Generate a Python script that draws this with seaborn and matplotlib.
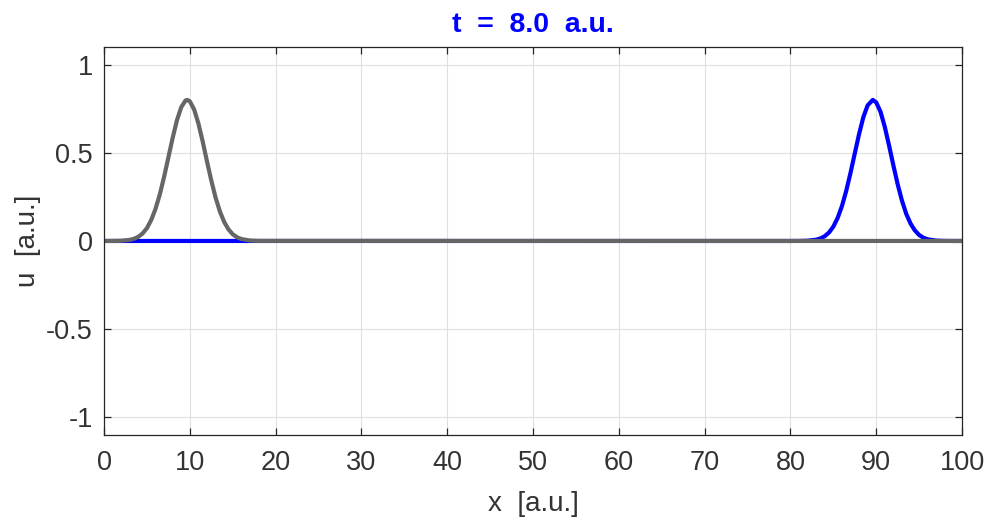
import pandas as pd
import seaborn as sns
import matplotlib.pyplot as plt

# datos
# -----------------------------------------------------------------------
x_gray = [0, 1, 2, 3, 3.5, 4, 4.5, 5, 5.5, 6, 6.5, 7, 7.5, 8, 8.5, 9, 9.5, 9.7,
          10, 10.5, 11, 11.5, 12, 12.5, 13, 13.5, 14, 14.5, 15, 15.5, 16, 17, 18, 100]
u_gray = [0, 0.0002, 0.0013, 0.0062, 0.0125, 0.0238, 0.043, 0.073, 0.119, 0.182,
          0.264, 0.364, 0.474, 0.585, 0.685, 0.759, 0.797, 0.80, 0.792, 0.746, 0.666,
          0.564, 0.451, 0.343, 0.246, 0.168, 0.108, 0.066, 0.038, 0.021, 0.011,
          0.0025, 0.0005, 0]

x_blue = [0, 80, 81, 82, 83, 83.5, 84, 84.5, 85, 85.5, 86, 86.5, 87, 87.5, 88, 88.5,
          89, 89.6, 90, 90.5, 91, 91.5, 92, 92.5, 93, 93.5, 94, 94.5, 95, 95.5, 96,
          97, 98, 99, 100]
u_blue = [0, 0, 0.0003, 0.0015, 0.0072, 0.0143, 0.0269, 0.048, 0.081, 0.130, 0.197,
          0.283, 0.385, 0.496, 0.606, 0.702, 0.769, 0.80, 0.786, 0.733, 0.647, 0.541,
          0.429, 0.322, 0.229, 0.154, 0.099, 0.060, 0.034, 0.0185, 0.0095, 0.0021,
          0.0004, 0.00005, 0]

x_ticks = [0, 10, 20, 30, 40, 50, 60, 70, 80, 90, 100]
y_ticks = [-1, -0.5, 0, 0.5, 1]
y_labels = ["-1", "-0.5", "0", "0.5", "1"]

titulo = "t  =  8.0  a.u."

# estilo
# -----------------------------------------------------------------------
sns.set_style("whitegrid")
plt.rcParams["font.family"] = ["Liberation Sans", "DejaVu Sans"]

df_gray = pd.DataFrame({"x": x_gray, "u": u_gray})
df_blue = pd.DataFrame({"x": x_blue, "u": u_blue})

fig = plt.figure(figsize=(9.89, 5.19), dpi=100)
ax = fig.add_axes([0.1052, 0.162, 0.8675, 0.7474])

sns.lineplot(data=df_blue, x="x", y="u", color="#0000FF", linewidth=3.0, sort=False, ax=ax)
sns.lineplot(data=df_gray, x="x", y="u", color="#666666", linewidth=3.0, sort=False, ax=ax)

ax.set_xlim(0, 100)
ax.set_ylim(-1.1, 1.1)
ax.set_xticks(x_ticks)
ax.set_yticks(y_ticks)
ax.set_yticklabels(y_labels)

ax.grid(True, color="#E0E0E0", linewidth=0.8)
for s in ax.spines.values():
    s.set_color("#262626")
    s.set_linewidth(0.9)
ax.tick_params(direction="in", length=5, width=0.9, color="#262626",
               labelcolor="#333333", labelsize=19.5, top=True, right=True,
               bottom=True, left=True)
ax.tick_params(axis="x", pad=11)
ax.tick_params(axis="y", pad=8)

ax.set_xlabel("x  [a.u.]", fontsize=20, color="#333333", labelpad=11)
ax.set_ylabel("u  [a.u.]", fontsize=20, color="#333333", labelpad=4)
ax.set_title(titulo, fontsize=20.5, fontweight="bold", color="#0000FF", pad=11)

plt.savefig("out.png", dpi=100)
